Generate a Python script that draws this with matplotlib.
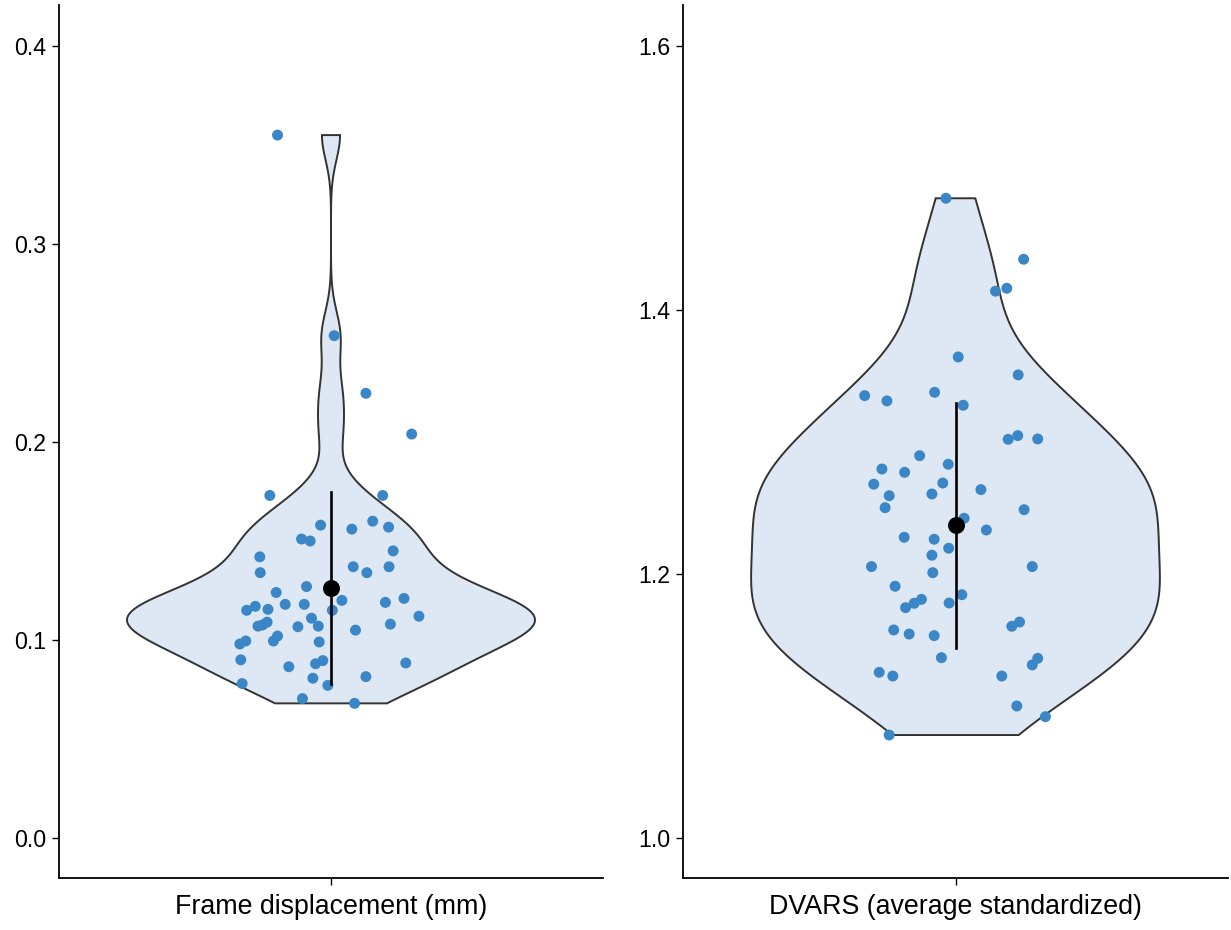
import numpy as np
import matplotlib
matplotlib.use("Agg")
import matplotlib.pyplot as plt

plt.rcParams['font.family'] = ['Liberation Sans', 'DejaVu Sans']

# Frame displacement (mm): values and horizontal jitter offsets
fd_values = [0.204, 0.173, 0.173, 0.158, 0.156, 0.160, 0.157, 0.151, 0.150, 0.145,
             0.142, 0.134, 0.137, 0.134, 0.137, 0.127, 0.124, 0.120, 0.119, 0.121,
             0.117, 0.115, 0.1155, 0.118, 0.118, 0.115, 0.112, 0.107, 0.1076, 0.109,
             0.111, 0.107, 0.1067, 0.105, 0.108, 0.098, 0.0995, 0.0995, 0.102, 0.099,
             0.090, 0.0865, 0.088, 0.0896, 0.0884, 0.078, 0.0807, 0.0771, 0.0815, 0.0704,
             0.068, 0.355, 0.2537, 0.2246]
fd_jitter = [0.178, -0.135, 0.114, -0.023, 0.046, 0.092, 0.127, -0.065, -0.046, 0.137,
             -0.157, -0.156, 0.049, 0.079, 0.128, -0.054, -0.121, 0.024, 0.120, 0.161,
             -0.167, -0.186, -0.139, -0.101, -0.059, 0.003, 0.194, -0.161, -0.151, -0.141,
             -0.043, -0.028, -0.073, 0.054, 0.131, -0.201, -0.188, -0.127, -0.118, -0.026,
             -0.199, -0.093, -0.034, -0.018, 0.165, -0.196, -0.040, -0.007, 0.077, -0.063,
             0.052, -0.118, 0.007, 0.077]

# DVARS (average standardized)
dv_values = [1.4846, 1.4384, 1.4142, 1.4164, 1.3644, 1.3508, 1.3351, 1.3311, 1.3376, 1.3278,
             1.3020, 1.3048, 1.3023, 1.2896, 1.2795, 1.2770, 1.2831, 1.2680, 1.2593, 1.2689,
             1.2606, 1.2639, 1.2502, 1.2487, 1.2422, 1.2333, 1.2278, 1.2263, 1.2195, 1.2142,
             1.2056, 1.2010, 1.2056, 1.1907, 1.1745, 1.1778, 1.1808, 1.1780, 1.1843, 1.1604,
             1.1636, 1.1576, 1.1545, 1.1533, 1.1366, 1.1361, 1.1311, 1.1255, 1.1227, 1.1227,
             1.1000, 1.0919, 1.0780]
dv_jitter = [-0.021, 0.150, 0.088, 0.113, 0.006, 0.138, -0.200, -0.151, -0.046, 0.017,
             0.116, 0.137, 0.181, -0.079, -0.162, -0.112, -0.016, -0.180, -0.146, -0.028,
             -0.052, 0.056, -0.155, 0.151, 0.019, 0.068, -0.113, -0.047, -0.015, -0.052,
             -0.185, -0.050, 0.169, -0.133, -0.110, -0.091, -0.075, -0.014, 0.014, 0.124,
             0.141, -0.136, -0.102, -0.047, -0.031, 0.181, 0.169, -0.168, -0.138, 0.102,
             0.135, 0.198, -0.146]

labels = ["Frame displacement (mm)", "DVARS (average standardized)"]
yticks = [[0.0, 0.1, 0.2, 0.3, 0.4], [1.0, 1.2, 1.4, 1.6]]
ylims = [(-0.0202, 0.4207), (0.9697, 1.631)]

point_col = "#3a86c6"
fill_col = "#dde8f4"
edge_col = "#333333"


def nrd0(x):
    # R's default bandwidth rule
    x = np.asarray(x)
    sd = np.std(x, ddof=1)
    iqr = np.subtract(*np.percentile(x, [75, 25]))
    lo = min(sd, iqr / 1.34)
    return 0.9 * lo * len(x) ** (-0.2)


def violin(ax, vals, pos=1.0, width=0.9):
    vals = np.asarray(vals)
    bw = nrd0(vals)
    grid = np.linspace(vals.min(), vals.max(), 512)
    dens = np.exp(-0.5 * ((grid[:, None] - vals[None, :]) / bw) ** 2).sum(axis=1)
    half = dens / dens.max() * width / 2
    xs = np.concatenate([pos - half, (pos + half)[::-1]])
    ys = np.concatenate([grid, grid[::-1]])
    ax.fill(xs, ys, facecolor=fill_col, edgecolor=edge_col, linewidth=1.4, zorder=1)


fig = plt.figure(figsize=(12.31, 9.30), dpi=100)
W, H = 1231, 930
boxes = [(59, 5, 603, 878), (683, 5, 1228, 878)]

for i, (vals, jit) in enumerate([(fd_values, fd_jitter), (dv_values, dv_jitter)]):
    x0, y0, x1, y1 = boxes[i]
    ax = fig.add_axes([x0 / W, 1 - y1 / H, (x1 - x0) / W, (y1 - y0) / H])
    violin(ax, vals)
    ax.scatter(1 + np.asarray(jit), vals, s=62, color=point_col, edgecolors='none', zorder=2)
    m = np.mean(vals)
    sd = np.std(vals, ddof=1)
    ax.plot([1, 1], [m - sd, m + sd], color="black", linewidth=1.9, zorder=3)
    ax.scatter([1], [m], s=125, color="black", zorder=4)

    ax.set_xlim(0.4, 1.6)
    ax.set_ylim(*ylims[i])
    ax.set_xticks([1])
    ax.set_xticklabels([labels[i]], fontsize=19.3)
    ax.set_yticks(yticks[i])
    ax.set_yticklabels(["%.1f" % t for t in yticks[i]], fontsize=16.7)
    for s in ["top", "right"]:
        ax.spines[s].set_visible(False)
    for s in ["left", "bottom"]:
        ax.spines[s].set_linewidth(1.3)
    ax.tick_params(length=4.7, width=1.0, colors="black")
    ax.tick_params(axis='y', pad=4.5)
    ax.tick_params(axis='x', pad=7)

fig.savefig("out.png", dpi=100)
